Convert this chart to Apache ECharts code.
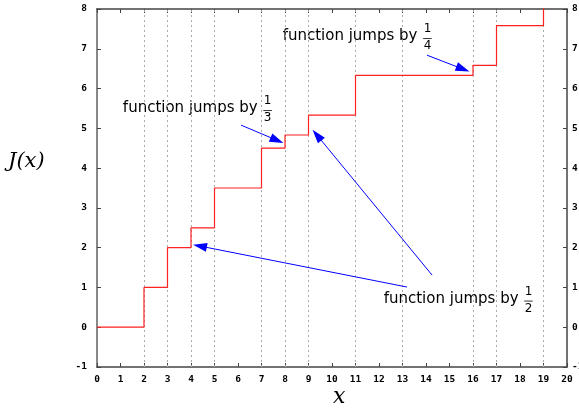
<!DOCTYPE html>
<html>
<head>
<meta charset="utf-8">
<script src="https://cdn.jsdelivr.net/npm/echarts@6/dist/echarts.min.js"></script>
<style>
  html, body { margin: 0; padding: 0; background: #fff; }
  #chart { width: 579px; height: 410px; }
</style>
</head>
<body>
<div id="chart"></div>
<script>
// step positions and J(x) value after each step
const stepX = [0, 2, 3, 4, 5, 7, 8, 9, 11, 16, 17, 19];
const stepY = [0, 1, 2, 2.5, 3.5, 4.5, 4.833, 5.333, 6.333, 6.583, 7.583, 8.583];
// dotted guide lines
const guideX = [2, 3, 4, 5, 7, 8, 9, 11, 13, 16, 17, 19];
// annotation arrows [fromX, fromY, toX, toY] in data units
const arrows = [
  [14.04, 6.84, 15.57, 6.49],
  [6.13, 5.08, 7.66, 4.70],
  [13.19, 1.01, 4.38, 2.04],
  [14.26, 1.31, 9.36, 4.83]
];
// annotation texts: [x, y, denominator]
const notes = [
  [7.9, 7.27, 4],
  [1.1, 5.46, 3],
  [12.2, 0.67, 2]
];

const tickFont = { fontFamily: "DejaVu Sans Mono", fontWeight: "bold", fontSize: 9.5, color: "#000" };
const axisLine = { onZero: false, lineStyle: { color: "#444", width: 1.5 } };

const chart = echarts.init(document.getElementById("chart"));

const lineData = stepX.map((x, i) => [x, stepY[i]]);

chart.setOption({
  animation: false,
  grid: { left: 97, right: 12, top: 9, bottom: 43, outerBoundsMode: "none", containLabel: false },
  xAxis: [
    {
      type: "value", min: 0, max: 20, interval: 1,
      axisLine: axisLine,
      axisTick: { inside: true, length: 4, lineStyle: { color: "#444" } },
      axisLabel: Object.assign({ margin: 8 }, tickFont),
      splitLine: { show: false }
    },
    {
      type: "value", position: "top", min: 0, max: 20, interval: 1,
      axisLine: axisLine,
      axisTick: { inside: true, length: 4, lineStyle: { color: "#444" } },
      axisLabel: { show: false },
      splitLine: { show: false }
    }
  ],
  yAxis: [
    {
      type: "value", min: -1, max: 8, interval: 1,
      axisLine: { show: true, onZero: false, lineStyle: { color: "#888", width: 2 } },
      axisTick: { inside: true, length: 4, lineStyle: { color: "#444" } },
      axisLabel: Object.assign({ margin: 10 }, tickFont),
      splitLine: { show: false }
    },
    {
      type: "value", position: "right", min: -1, max: 8, interval: 1,
      axisLine: { show: true, onZero: false, lineStyle: { color: "#444", width: 1.5 } },
      axisTick: { inside: true, length: 4, lineStyle: { color: "#444" } },
      axisLabel: Object.assign({ margin: 5 }, tickFont),
      splitLine: { show: false }
    }
  ],
  series: [
    {
      type: "line",
      data: guideX.map(x => [x, -1]),
      symbol: "none",
      lineStyle: { opacity: 0 },
      silent: true,
      markLine: {
        silent: true,
        symbol: ["none", "none"],
        label: { show: false },
        lineStyle: { color: "#aaa", type: [2, 3], width: 1 },
        data: guideX.map(x => ({ xAxis: x }))
      }
    },
    {
      type: "line",
      data: lineData,
      step: "end",
      symbol: "none",
      clip: true,
      lineStyle: { color: "#ff2020", width: 1.2 },
      z: 5
    },
    {
      type: "line",
      data: [],
      symbol: "none",
      markLine: {
        silent: true,
        symbol: ["none", "triangle"],
        symbolSize: [9, 14],
        label: { show: false },
        lineStyle: { color: "#0000ff", type: "solid", width: 1 },
        data: arrows.map(a => [{ coord: [a[0], a[1]] }, { coord: [a[2], a[3]] }])
      },
      z: 6
    }
  ]
});

// annotation texts with stacked fractions
const g = [];
notes.forEach(n => {
  const p = chart.convertToPixel({ gridIndex: 0 }, [n[0], n[1]]);
  g.push({
    type: "text", left: p[0], top: p[1] - 9,
    style: { text: "function jumps by", font: "15px 'DejaVu Sans'", fill: "#000" }
  });
  const fx = p[0] + 141;
  g.push({ type: "text", left: fx, top: p[1] - 15, style: { text: "1", font: "12px 'DejaVu Sans'", fill: "#000" } });
  g.push({ type: "line", shape: { x1: fx - 0.5, y1: p[1] + 0.5, x2: fx + 8, y2: p[1] + 0.5 }, style: { stroke: "#000", lineWidth: 0.8 } });
  g.push({ type: "text", left: fx, top: p[1] + 2, style: { text: String(n[2]), font: "12px 'DejaVu Sans'", fill: "#000" } });
});
g.push({ type: "text", left: 8, top: 151, style: { text: "J(x)", font: "italic 21px 'DejaVu Serif'", fill: "#000" } });
g.push({ type: "text", left: 333, top: 386, style: { text: "x", font: "italic 22px 'DejaVu Serif'", fill: "#000" } });
chart.setOption({ graphic: g });
</script>
</body>
</html>
